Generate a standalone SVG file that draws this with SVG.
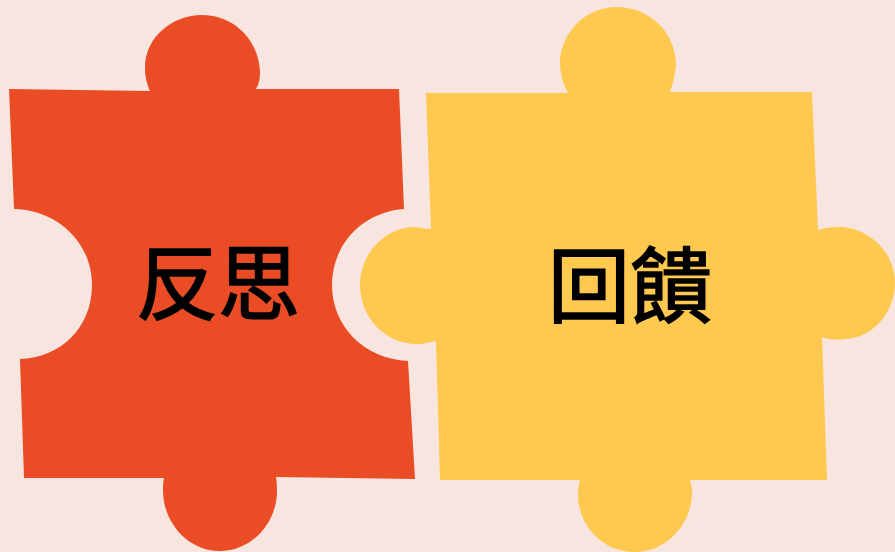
<svg xmlns="http://www.w3.org/2000/svg" width="895" height="552" viewBox="0 0 895 552">
<style>
.t{font-family:"Noto Sans CJK TC","Noto Sans CJK SC",sans-serif;font-size:82px;font-weight:400;fill:#000;stroke:#000;stroke-width:1.7px;text-anchor:middle}
</style>
<rect width="895" height="552" fill="#f9e5df"/>
<g id="piece-reflect">
<path fill="#ea4c25" d="M9 89L150 91C146 82 145 75 145 66C146 37 172 15 202 15C234 15 259 40 260 72C260 79 259 84 256 89L399 89L404 209C362 212 332 245 332 285C332 326 364 359 408 361L415 479L276 477C277 483 277 489 277 494C275 526 250 551 220 551C188 551 163 523 163 490C163 486 163 482 164 478L24 478L20 359C60 358 92 328 92 285C92 243 58 210 14 209Z"/>
<text class="t" x="218" y="313">反思</text>
</g>
<g id="piece-feedback">
<path fill="#ffc84f" d="M426 93L568 93C563 84 560 74 560 62C561 32 586 7 616 7C650 7 676 33 676 65C675 75 673 84 670 92L812 92L818 230L826 228C832 227 836 227 840 227C870 228 895 253 895 283C895 314 870 339 845 339C838 340 830 340 822 337L827 480L690 480C691 484 692 489 692 494C691 526 665 552 635 552C603 552 578 526 578 494C578 489 579 484 580 480L440 480L436 341L426 343C423 344 420 344 417 344C386 344 360 318 360 285C360 253 386 227 415 227C422 228 427 229 431 229Z"/>
<text class="t" x="630" y="316">回饋</text>
</g>
<g id="connectors"/>
</svg>
